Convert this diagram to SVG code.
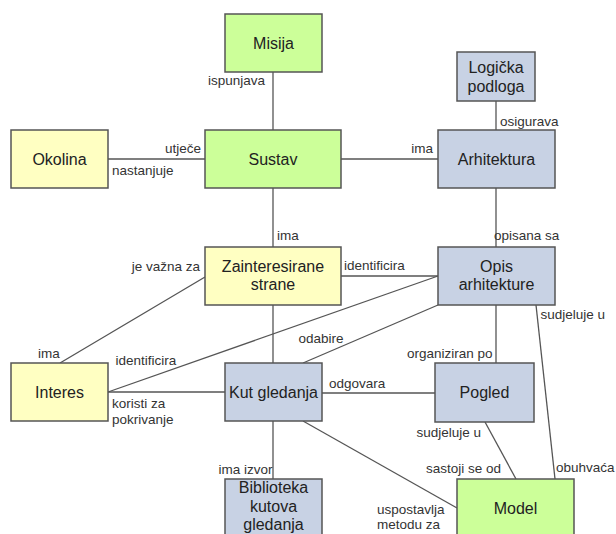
<svg xmlns="http://www.w3.org/2000/svg" width="616" height="534" viewBox="0 0 616 534">
<style>
.n rect{stroke:#555;stroke-width:1.5}
.g rect{fill:#ccff99}
.y rect{fill:#ffffc2}
.b rect{fill:#c8d2e4}
.n text{font-family:"Liberation Sans",Arial,sans-serif;font-size:16px;fill:#222;text-anchor:middle}
#edges line{stroke:#555;stroke-width:1.3}
#labels text{font-family:"Liberation Sans",Arial,sans-serif;font-size:13.5px;fill:#333}
.e{text-anchor:end}
</style>
<rect width="616" height="534" fill="#fff"/>
<g id="edges">
<line x1="273" y1="72" x2="273" y2="130"/>
<line x1="108" y1="159" x2="205" y2="159"/>
<line x1="341" y1="159" x2="438" y2="159"/>
<line x1="496" y1="101" x2="496" y2="130"/>
<line x1="273" y1="188" x2="273" y2="247"/>
<line x1="496" y1="188" x2="496" y2="247"/>
<line x1="341" y1="276" x2="438" y2="276"/>
<line x1="205" y1="277" x2="60" y2="363"/>
<line x1="438" y1="276" x2="108" y2="392"/>
<line x1="438" y1="305" x2="303" y2="363"/>
<line x1="273" y1="305" x2="273" y2="363"/>
<line x1="108" y1="392" x2="225" y2="392"/>
<line x1="322" y1="393" x2="435" y2="393"/>
<line x1="496" y1="305" x2="496" y2="363"/>
<line x1="536" y1="305" x2="555" y2="479"/>
<line x1="485" y1="422" x2="516" y2="479"/>
<line x1="303" y1="421" x2="457" y2="508"/>
<line x1="273" y1="421" x2="273" y2="479"/>
</g>
<g id="misija" class="n g"><rect x="225" y="14" width="97" height="58"/><text x="273.5" y="48.5">Misija</text></g>
<g id="okolina" class="n y"><rect x="11" y="130" width="97" height="58"/><text x="59.5" y="164.5">Okolina</text></g>
<g id="sustav" class="n g"><rect x="205" y="130" width="136" height="58"/><text x="273" y="164.5">Sustav</text></g>
<g id="logicka" class="n b"><rect x="457" y="52" width="78" height="49"/><text x="496" y="72.5">Logička</text><text x="496" y="91.5">podloga</text></g>
<g id="arhitektura" class="n b"><rect x="438" y="130" width="117" height="58"/><text x="496.5" y="164.5">Arhitektura</text></g>
<g id="zainteresirane" class="n y"><rect x="205" y="247" width="136" height="58"/><text x="273" y="271.5">Zainteresirane</text><text x="273" y="290">strane</text></g>
<g id="opis" class="n b"><rect x="438" y="247" width="117" height="58"/><text x="496.5" y="271.5">Opis</text><text x="496.5" y="290">arhitekture</text></g>
<g id="interes" class="n y"><rect x="11" y="363" width="97" height="58"/><text x="59.5" y="397.5">Interes</text></g>
<g id="kut" class="n b"><rect x="225" y="363" width="97" height="58"/><text x="273.5" y="397.5">Kut gledanja</text></g>
<g id="pogled" class="n b"><rect x="435" y="363" width="99" height="59"/><text x="484.5" y="397.5">Pogled</text></g>
<g id="biblioteka" class="n b"><rect x="225" y="479" width="97" height="70"/><text x="273.5" y="492.5">Biblioteka</text><text x="273.5" y="511.5">kutova</text><text x="273.5" y="530">gledanja</text></g>
<g id="model" class="n g"><rect x="457" y="479" width="117" height="70"/><text x="515.5" y="513.5">Model</text></g>
<g id="labels">
<text x="265" y="85" class="e">ispunjava</text>
<text x="201" y="153" class="e">utječe</text>
<text x="112" y="175">nastanjuje</text>
<text x="433" y="153" class="e">ima</text>
<text x="500" y="126">osigurava</text>
<text x="277" y="240">ima</text>
<text x="200" y="271" class="e">je važna za</text>
<text x="344" y="269.5">identificira</text>
<text x="494" y="240">opisana sa</text>
<text x="38" y="357.5">ima</text>
<text x="115.5" y="365">identificira</text>
<text x="343.5" y="343" class="e">odabire</text>
<text x="540.5" y="318.5">sudjeluje u</text>
<text x="492.5" y="357.5" class="e">organiziran po</text>
<text x="329" y="387.5">odgovara</text>
<text x="112" y="407.5">koristi za</text>
<text x="112" y="423.5">pokrivanje</text>
<text x="272.5" y="473.5" class="e">ima izvor</text>
<text x="481" y="437" class="e">sudjeluje u</text>
<text x="501" y="473" class="e">sastoji se od</text>
<text x="556" y="472">obuhvaća</text>
<text x="377" y="513.5">uspostavlja</text>
<text x="377" y="528.5">metodu za</text>
</g>
</svg>
